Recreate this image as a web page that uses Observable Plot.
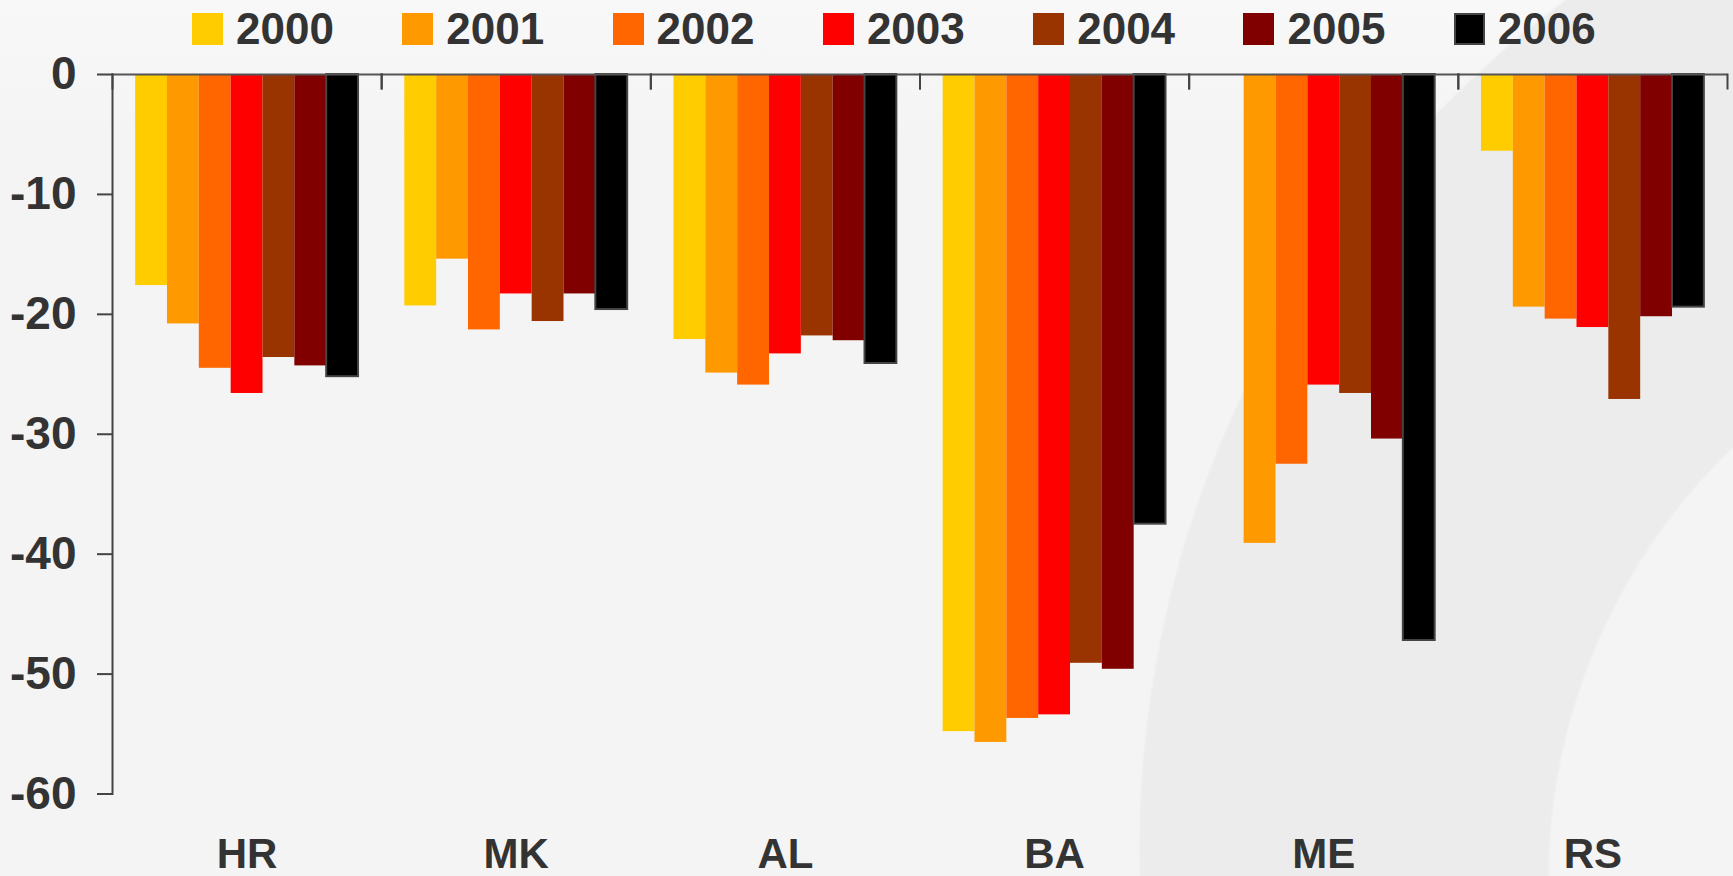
<!DOCTYPE html>
<html>
<head>
<meta charset="utf-8">
<script src="https://cdn.jsdelivr.net/npm/d3@7"></script>
<script src="https://cdn.jsdelivr.net/npm/@observablehq/plot@0.6"></script>
<style>
  html, body { margin: 0; padding: 0; }
  body {
    width: 1733px; height: 876px; overflow: hidden; position: relative;
    font-family: "Liberation Sans", Arial, sans-serif;
    background:
      radial-gradient(circle 600px at 2148px 880px, #f4f4f4 0, #f4f4f4 598px, rgba(244,244,244,0) 601px),
      radial-gradient(circle 1061px at 2200px 850px, #ececec 0, #ececec 1059px, rgba(236,236,236,0) 1062px),
      linear-gradient(#f8f8f8 0, #f4f4f4 140px);
  }
  #chart { position: absolute; left: 0; top: 0; }
  #legend { position: absolute; left: 192px; top: 13px; display: flex; z-index: 2; }
  .item { width: 210.3px; display: flex; align-items: center; }
  .sw { width: 31px; height: 32px; box-sizing: border-box; }
  .lab { margin-left: 13px; font-size: 44px; font-weight: bold; color: #333; line-height: 32px; }
</style>
</head>
<body>
<div id="chart"></div>
<div id="legend"></div>
<script>
// ---- data ----
const countries = ["HR", "MK", "AL", "BA", "ME", "RS"];
const years = ["2000", "2001", "2002", "2003", "2004", "2005", "2006"];
const colors = ["#ffcc00", "#ff9900", "#ff6600", "#ff0000", "#993300", "#800000", "#000000"];
const yTicks = [0, -10, -20, -30, -40, -50, -60];

const v2000 = [-17.6, -19.3, -22.1, -54.8, null, -6.4];
const v2001 = [-20.8, -15.4, -24.9, -55.7, -39.1, -19.4];
const v2002 = [-24.5, -21.3, -25.9, -53.7, -32.5, -20.4];
const v2003 = [-26.6, -18.3, -23.3, -53.4, -25.9, -21.1];
const v2004 = [-23.6, -20.6, -21.8, -49.1, -26.6, -27.1];
const v2005 = [-24.3, -18.3, -22.2, -49.6, -30.4, -20.2];
const v2006 = [-25.2, -19.6, -24.1, -37.5, -47.2, -19.4];
const series = [v2000, v2001, v2002, v2003, v2004, v2005, v2006];

const data = [];
years.forEach((yr, j) => countries.forEach((c, i) => {
  data.push({country: c, year: yr, value: series[j][i]});
}));

// ---- layout ----
const W = 1733, H = 876, mt = 74, mb = 82.5, ml = 112, mr = 6;
const tickLen = 14;
const ink = "#333";
const lineInk = "#444";

const chart = Plot.plot({
  width: W, height: H,
  marginTop: mt, marginBottom: mb, marginLeft: ml, marginRight: mr,
  style: {background: "transparent", fontFamily: "'Liberation Sans', Arial, sans-serif", overflow: "visible"},
  fx: {domain: countries, padding: 0, round: false},
  x: {domain: years, paddingInner: 0, paddingOuter: 0.727, round: false, axis: null},
  y: {domain: [-60, 0]},
  color: {domain: years, range: colors},
  marks: [
    Plot.barY(data, {fx: "country", x: "year", y: "value", fill: "year"}),
    Plot.barY(data, {filter: d => d.year === years[6], fx: "country", x: "year", y: "value",
                     fill: colors[6], stroke: lineInk, strokeWidth: 2}),
    Plot.ruleY([0], {stroke: "#555", strokeWidth: 2}),
    Plot.frame({anchor: "left", facetAnchor: "left", stroke: lineInk, strokeWidth: 2}),
    Plot.frame({anchor: "left", stroke: lineInk, strokeWidth: 2, insetBottom: H - mt - mb - tickLen}),
    Plot.frame({anchor: "right", stroke: lineInk, strokeWidth: 2, insetBottom: H - mt - mb - tickLen}),
    Plot.axisY({ticks: yTicks, tickSize: 15, tickPadding: 21, tickFormat: d => String(d),
                fontSize: 46, fontWeight: "bold", color: ink, stroke: lineInk, strokeWidth: 2, label: null}),
    Plot.axisFx({anchor: "bottom", tickSize: 0, tickPadding: 44, fontSize: 42, fontWeight: "bold",
                 color: ink, label: null})
  ]
});
document.getElementById("chart").appendChild(chart);

// ---- legend ----
const legend = document.getElementById("legend");
years.forEach((yr, j) => {
  const item = document.createElement("div");
  item.className = "item";
  const sw = document.createElement("div");
  sw.className = "sw";
  sw.style.background = colors[j];
  if (j === years.length - 1) sw.style.border = "2px solid " + lineInk;
  const lab = document.createElement("span");
  lab.className = "lab";
  lab.textContent = yr;
  item.appendChild(sw);
  item.appendChild(lab);
  legend.appendChild(item);
});
</script>
</body>
</html>
